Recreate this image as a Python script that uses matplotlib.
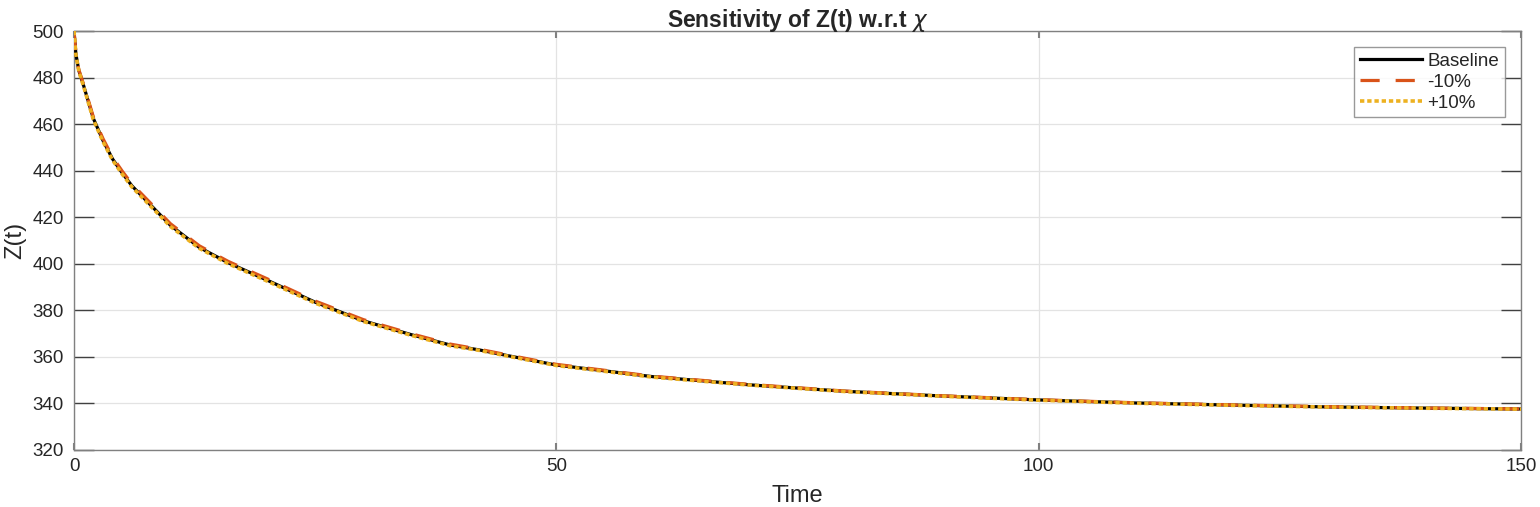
import matplotlib
matplotlib.use("Agg")
import matplotlib.pyplot as plt
import numpy as np

# Data
time = [0, 0.2, 0.5, 1, 2, 3, 4, 5, 6, 8, 10, 13, 16, 20, 25, 30, 35, 39, 42, 45,
        50, 60, 70, 80, 90, 100, 110, 120, 130, 140, 150]
z_baseline = [500, 490, 483, 476.5, 462.5, 453, 445, 439, 433.5, 425, 416.5, 407, 400.4,
              393, 383.5, 375.5, 369.5, 365.1, 363, 360.5, 356.5, 351.5, 348, 345.2,
              343.2, 341.5, 340.2, 339.3, 338.5, 338, 337.6]
z_minus10 = [500, 490.3, 483.4, 477.0, 463.2, 453.8, 445.8, 439.8, 434.3, 425.8, 417.2, 407.7,
             401.0, 393.6, 384.0, 376.0, 369.9, 365.5, 363.3, 360.8, 356.8, 351.7, 348.2,
             345.3, 343.3, 341.6, 340.3, 339.4, 338.6, 338.05, 337.65]
z_plus10 = [500, 489.8, 482.7, 476.1, 462.0, 452.5, 444.5, 438.5, 433.0, 424.5, 416.0, 406.6,
            400.0, 392.6, 383.1, 375.2, 369.2, 364.8, 362.8, 360.3, 356.3, 351.3, 347.9,
            345.1, 343.1, 341.4, 340.1, 339.2, 338.45, 337.95, 337.55]
labels = ["Baseline", "-10%", "+10%"]

plt.rcParams['font.family'] = ['Liberation Sans', 'DejaVu Sans']

fig = plt.figure(figsize=(15.4, 5.07), dpi=100)
ax = fig.add_axes([74/1540, 1-450/507, (1521-74)/1540, (450-31)/507])

ax.plot(time, z_baseline, color='black', lw=2.3, label=labels[0], zorder=3)
ax.plot(time, z_minus10, color='#D95319', lw=2.3, ls=(0, (6, 5)), label=labels[1], zorder=4)
ax.plot(time, z_plus10, color='#EDB120', lw=2.6, ls=(0, (1.2, 0.8)), label=labels[2], zorder=5)

ax.set_xlim(0, 150)
ax.set_ylim(320, 500)
ax.set_xticks([0, 50, 100, 150])
ax.set_yticks(np.arange(320, 501, 20))
ax.grid(True, color='#e3e3e3', lw=0.9)
ax.set_axisbelow(True)

axis_col = '#808080'
for s in ax.spines.values():
    s.set_color(axis_col)
    s.set_linewidth(1.0)
ax.tick_params(direction='in', labelsize=13.5, labelcolor='#262626', top=True, right=True)
ax.tick_params(axis='y', length=14.5, width=1.0, color='#404040', pad=7.5)
ax.tick_params(axis='x', length=5, width=1.5, color=axis_col, pad=6)

ax.set_xlabel('Time', fontsize=17, color='#262626', labelpad=7)
ax.set_ylabel('Z(t)', fontsize=17, color='#262626', labelpad=4)
ax.set_title(r'Sensitivity of Z(t) w.r.t $\chi$', fontsize=16.5, fontweight='bold',
             color='#262626', pad=3)

leg = ax.legend(loc='upper right', bbox_to_anchor=(0.9889, 0.9618), fontsize=13.5,
                frameon=True, fancybox=False, handlelength=3.3, handletextpad=0.3,
                borderpad=0.3, labelspacing=0.2, borderaxespad=0)
leg.get_frame().set_edgecolor(axis_col)
leg.get_frame().set_linewidth(1.0)
for t in leg.get_texts():
    t.set_color('#262626')

fig.savefig('out.png', dpi=100)
